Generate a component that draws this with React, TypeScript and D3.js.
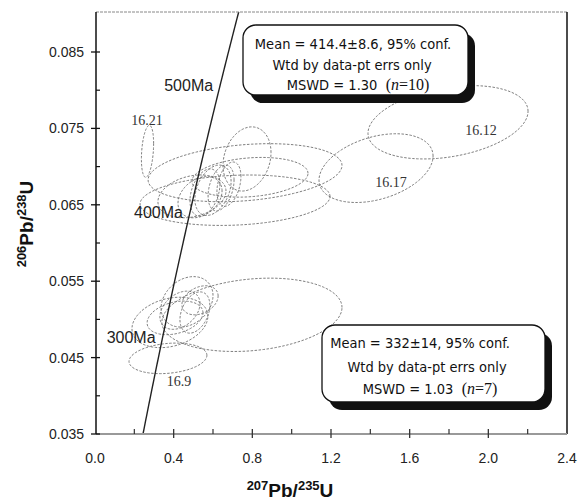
import * as d3 from "d3"
import { useMemo } from "react"

// U-Pb spot analyses: centre and 1-sided error half-widths (data units), rho = error correlation
interface Spot {
  x: number
  y: number
  sx: number
  sy: number
  rho: number
}

const upperSpots: Spot[] = [
  { x: 0.267, y: 0.072, sx: 0.031, sy: 0.0034, rho: 0.3 }, // 16.21
  { x: 1.795, y: 0.0758, sx: 0.407, sy: 0.0048, rho: 0.3 }, // 16.12
  { x: 1.429, y: 0.0698, sx: 0.29, sy: 0.0045, rho: 0.35 }, // 16.17
  { x: 0.773, y: 0.071, sx: 0.122, sy: 0.0042, rho: 0.2 },
  { x: 0.763, y: 0.0692, sx: 0.493, sy: 0.0038, rho: 0.25 },
  { x: 0.712, y: 0.0656, sx: 0.483, sy: 0.0033, rho: 0.15 },
  { x: 0.788, y: 0.0686, sx: 0.295, sy: 0.0026, rho: 0.2 },
  { x: 0.493, y: 0.0661, sx: 0.173, sy: 0.0028, rho: 0.25 },
  { x: 0.559, y: 0.0666, sx: 0.076, sy: 0.0031, rho: 0.35 },
  { x: 0.6, y: 0.0669, sx: 0.092, sy: 0.0033, rho: 0.35 },
  { x: 0.641, y: 0.0672, sx: 0.066, sy: 0.003, rho: 0.35 },
  { x: 0.534, y: 0.066, sx: 0.112, sy: 0.0027, rho: 0.3 },
  { x: 0.681, y: 0.0677, sx: 0.061, sy: 0.0029, rho: 0.35 },
]

const lowerSpots: Spot[] = [
  { x: 0.798, y: 0.0506, sx: 0.458, sy: 0.0048, rho: 0.2 },
  { x: 0.371, y: 0.0449, sx: 0.198, sy: 0.002, rho: 0.2 }, // 16.9
  { x: 0.381, y: 0.0496, sx: 0.193, sy: 0.0033, rho: 0.25 },
  { x: 0.468, y: 0.0523, sx: 0.132, sy: 0.0033, rho: 0.25 },
  { x: 0.432, y: 0.0512, sx: 0.102, sy: 0.0025, rho: 0.35 },
  { x: 0.508, y: 0.0509, sx: 0.076, sy: 0.0027, rho: 0.35 },
  { x: 0.534, y: 0.0525, sx: 0.092, sy: 0.0019, rho: 0.3 },
  { x: 0.407, y: 0.0502, sx: 0.142, sy: 0.0022, rho: 0.3 },
]

const spotLabels = [
  { text: "16.21", x: 0.264, y: 0.0754 },
  { text: "16.12", x: 1.963, y: 0.0741 },
  { text: "16.17", x: 1.505, y: 0.0673 },
  { text: "16.9", x: 0.427, y: 0.0413 },
]

const ageLabels = [300, 400, 500]
const xTicks = [0, 0.4, 0.8, 1.2, 1.6, 2.0, 2.4]
const yTicks = [0.035, 0.045, 0.055, 0.065, 0.075, 0.085]

// decay constants (1/yr) for the concordia curve
const L238 = 1.55125e-10
const L235 = 9.8485e-10

const W = 578
const H = 500
const left = 96
const right = 567
const top = 12
const bottom = 434

const boxFont = "'DejaVu Sans Condensed', 'DejaVu Sans', sans-serif"
const serif = "'Liberation Serif', 'Times New Roman', serif"
const sans = "'Liberation Sans', Arial, sans-serif"

export default function App() {
  const x = d3.scaleLinear().domain([0, 2.4]).range([95, 567])
  const y = d3.scaleLinear().domain([0.035, 0.085]).range([434, 52])

  const line = d3
    .line<[number, number]>()
    .x((d) => x(d[0]))
    .y((d) => y(d[1]))

  const ellipsePath = (s: Spot) => {
    const k = Math.sqrt(1 - s.rho * s.rho)
    const pts: [number, number][] = d3.range(0, 96).map((i) => {
      const t = (i / 96) * Math.PI * 2
      return [s.x + s.sx * Math.cos(t), s.y + s.sy * (s.rho * Math.cos(t) + k * Math.sin(t))]
    })
    return line.curve(d3.curveLinearClosed)(pts) || ""
  }

  const concordia = (ma: number): [number, number] => [
    Math.exp(L235 * ma * 1e6) - 1,
    Math.exp(L238 * ma * 1e6) - 1,
  ]

  const concPath = useMemo(
    () => line.curve(d3.curveLinear)(d3.range(200, 600, 2).map(concordia)) || "",
    [],
  )

  const minorX = d3.range(0.2, 2.4, 0.4)
  const minorY = d3.range(0.04, 0.086, 0.01)

  const box = (bx: number, by: number, bw: number, bh: number) => (
    <>
      <rect x={bx + 7} y={by + 8} width={bw} height={bh} rx={13} fill="#111" />
      <rect x={bx} y={by} width={bw} height={bh} rx={13} fill="#fff" stroke="#111" strokeWidth={1.3} />
    </>
  )

  return (
    <svg width={W} height={H} style={{ position: "absolute", left: 0, top: 0, background: "#fff" }}>
      <defs>
        <clipPath id="plot">
          <rect x={left} y={top} width={right - left} height={bottom - top} />
        </clipPath>
      </defs>

      {/* error ellipses */}
      <g fill="none" stroke="#707070" strokeWidth={0.9} strokeDasharray="2.5,1.5" clipPath="url(#plot)">
        {[...upperSpots, ...lowerSpots].map((s, i) => (
          <path key={i} d={ellipsePath(s)} />
        ))}
      </g>

      {/* concordia */}
      <path d={concPath} fill="none" stroke="#222" strokeWidth={1.4} clipPath="url(#plot)" />
      {ageLabels.map((a) => {
        const [cx, cy] = concordia(a)
        return (
          <text key={a} x={x(cx) - 7} y={y(cy) + 6} textAnchor="end" fontFamily={sans} fontSize={16} fill="#222">
            {a}Ma
          </text>
        )
      })}

      {spotLabels.map((l) => (
        <text key={l.text} x={x(l.x)} y={y(l.y)} textAnchor="middle" fontFamily={serif} fontSize={14} fill="#333">
          {l.text}
        </text>
      ))}

      {/* frame */}
      <line x1={left} x2={right} y1={top} y2={top} stroke="#888" strokeWidth={1} strokeDasharray="3,1" />
      <line x1={right} x2={right} y1={top} y2={bottom} stroke="#111" strokeWidth={1.5} />
      <line x1={left} x2={right} y1={bottom} y2={bottom} stroke="#999" strokeWidth={2} />
      <line x1={left} x2={left} y1={top} y2={bottom} stroke="#111" strokeWidth={1.5} />

      {/* y ticks */}
      {yTicks.map((t) => (
        <g key={t}>
          <line x1={left - 5} x2={left + 4} y1={y(t)} y2={y(t)} stroke="#111" strokeWidth={1.3} />
          <text x={84} y={y(t) + 5} textAnchor="end" fontFamily={sans} fontSize={14} fill="#222">
            {d3.format(".3f")(t)}
          </text>
        </g>
      ))}
      {minorY.map((t) => (
        <line key={t} x1={left} x2={left + 4} y1={y(t)} y2={y(t)} stroke="#111" strokeWidth={1.2} />
      ))}

      {/* x ticks */}
      {xTicks.map((t) => (
        <g key={t}>
          {t > 0 && t < 2.4 && (
            <line x1={x(t)} x2={x(t)} y1={bottom - 5} y2={bottom + 4} stroke="#333" strokeWidth={1.3} />
          )}
          <text x={x(t)} y={463} textAnchor="middle" fontFamily={sans} fontSize={14} fill="#222">
            {d3.format(".1f")(t)}
          </text>
        </g>
      ))}
      {minorX.map((t) => (
        <line key={t} x1={x(t)} x2={x(t)} y1={bottom - 5} y2={bottom} stroke="#333" strokeWidth={1.2} />
      ))}

      {/* axis titles */}
      <text x={290} y={497} textAnchor="middle" fontFamily={sans} fontWeight="bold" fontSize={19} fill="#111">
        <tspan fontSize={13} dy={-7}>207</tspan>
        <tspan dy={7}>Pb/</tspan>
        <tspan fontSize={13} dy={-7}>235</tspan>
        <tspan dy={7}>U</tspan>
      </text>
      <text
        transform="translate(33,224) rotate(-90)"
        textAnchor="middle"
        fontFamily={sans}
        fontWeight="bold"
        fontSize={19}
        fill="#111"
      >
        <tspan fontSize={13} dy={-7}>206</tspan>
        <tspan dy={7}>Pb/</tspan>
        <tspan fontSize={13} dy={-7}>238</tspan>
        <tspan dy={7}>U</tspan>
      </text>

      {/* upper result box */}
      {box(243, 25, 225, 70)}
      <g fontFamily={boxFont} fontSize={14.5} fill="#111" textAnchor="middle">
        <text x={353} y={49}>Mean = 414.4±8.6, 95% conf.</text>
        <text x={352} y={70}>Wtd by data-pt errs only</text>
        <text x={358} y={90}>
          MSWD = 1.30{"\u00a0\u00a0"}
          <tspan fontFamily={serif} fontSize={16}>
            (<tspan fontStyle="italic">n</tspan>=10)
          </tspan>
        </text>
      </g>

      {/* lower result box */}
      {box(322, 325, 223, 77)}
      <g fontFamily={boxFont} fontSize={14.5} fill="#111" textAnchor="middle">
        <text x={420} y={348}>Mean = 332±14, 95% conf.</text>
        <text x={427} y={372}>Wtd by data-pt errs only</text>
        <text x={430} y={394}>
          MSWD = 1.03{"\u00a0\u00a0"}
          <tspan fontFamily={serif} fontSize={16}>
            (<tspan fontStyle="italic">n</tspan>=7)
          </tspan>
        </text>
      </g>
    </svg>
  )
}
